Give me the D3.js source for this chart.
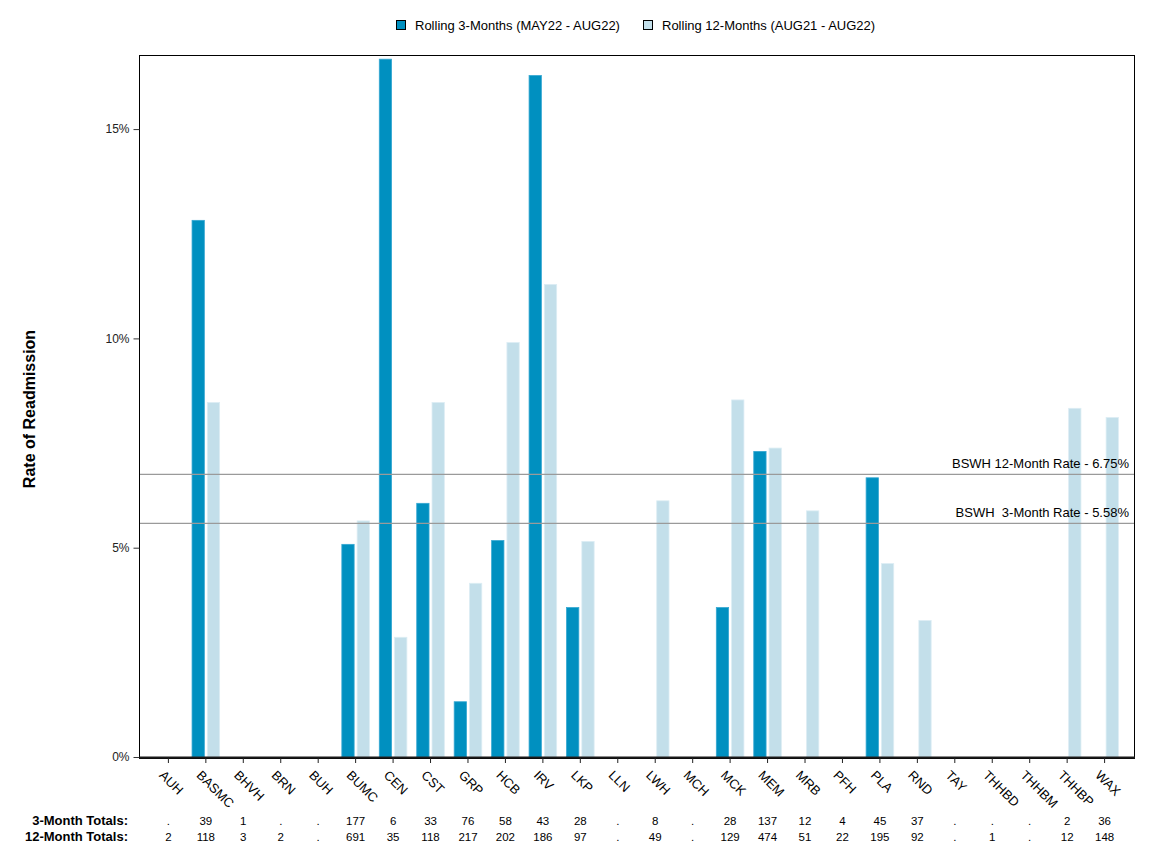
<!DOCTYPE html>
<html>
<head>
<meta charset="utf-8">
<script src="https://cdn.jsdelivr.net/npm/d3@7"></script>
<style>
  html, body { margin: 0; padding: 0; background: #fff; }
  svg { display: block; }
  text { font-family: "Liberation Sans", Arial, sans-serif; }
</style>
</head>
<body>
<svg id="chart" width="1152" height="864"></svg>
<script>
// ---- Data ----
const categories = ["AUH","BASMC","BHVH","BRN","BUH","BUMC","CEN","CST","GRP","HCB","IRV","LKP","LLN","LWH","MCH","MCK","MEM","MRB","PFH","PLA","RND","TAY","THHBD","THHBM","THHBP","WAX"];
// Rolling 3-month readmission rate (%), null = no data
const rate3Month = [null,12.82,0,null,null,5.08,16.67,6.06,1.32,5.17,16.28,3.57,null,0,null,3.57,7.30,0,0,6.67,0,null,null,null,0,0];
// Rolling 12-month readmission rate (%)
const rate12Month = [0,8.47,0,0,null,5.64,2.86,8.47,4.15,9.90,11.29,5.15,null,6.12,null,8.53,7.38,5.88,0,4.62,3.26,null,0,null,8.33,8.11];
const totals3Month = [".","39","1",".",".","177","6","33","76","58","43","28",".","8",".","28","137","12","4","45","37",".",".",".","2","36"];
const totals12Month = ["2","118","3","2",".","691","35","118","217","202","186","97",".","49",".","129","474","51","22","195","92",".","1",".","12","148"];
const seriesNames = ["Rolling 3-Months (MAY22 - AUG22)", "Rolling 12-Months (AUG21 - AUG22)"];
const yTicks = [0, 5, 10, 15];
const refLines = [
  {label: "BSWH 12-Month Rate - 6.75%", value: 6.75},
  {label: "BSWH  3-Month Rate - 5.58%", value: 5.58}
];
const tableRows = ["3-Month Totals:", "12-Month Totals:"];

// ---- Layout ----
const colors = ["#0090C0", "#C3DFEA"];
const strokes = ["#35A7D2", "#DCEDF4"];
const plot = {left: 139, right: 1134, top: 55, bottom: 757};

const svg = d3.select("#chart");

const x = d3.scaleBand().domain(categories).range([plot.left, plot.right])
  .paddingInner(0).paddingOuter(0.285);
const y = d3.scaleLinear().domain([0, 16.77]).range([plot.bottom, plot.top]);

// frame
svg.append("rect")
  .attr("x", plot.left + 0.5).attr("y", plot.top + 0.5)
  .attr("width", plot.right - plot.left).attr("height", plot.bottom - plot.top + 1)
  .attr("fill", "none").attr("stroke", "#000").attr("stroke-width", 1);

// y axis
const yAxis = d3.axisLeft(y).tickValues(yTicks).tickFormat(d => d + "%").tickSize(6).tickPadding(4);
const gy = svg.append("g").attr("transform", `translate(${plot.left + 0.5},0)`).call(yAxis);
gy.select(".domain").remove();
gy.selectAll(".tick line").attr("stroke", "#333");
gy.selectAll(".tick text").attr("font-family", "DejaVu Sans, sans-serif").attr("font-size", 12).attr("fill", "#222");

// y title
svg.append("text")
  .attr("transform", `translate(35,${(plot.top + plot.bottom) / 2 + 3}) rotate(-90)`)
  .attr("text-anchor", "middle")
  .attr("font-size", 16).attr("font-weight", "bold").attr("fill", "#000")
  .text("Rate of Readmission");

// bars
const barW = 12.3;
const series = [rate3Month, rate12Month];
series.forEach((vals, si) => {
  const data = categories.map((c, i) => ({c, v: vals[i]})).filter(d => d.v !== null);
  svg.append("g").selectAll("rect").data(data).join("rect")
    .attr("x", d => {
      const cx = x(d.c) + x.bandwidth() / 2;
      return si === 0 ? cx - 1.5 - barW : cx + 1.5;
    })
    .attr("y", d => y(d.v))
    .attr("width", barW)
    .attr("height", d => y(0) - y(d.v))
    .attr("fill", colors[si])
    .attr("stroke", d => d.v === 0 ? "#1a2a33" : strokes[si])
    .attr("stroke-width", d => d.v === 0 ? 1.2 : 0.8);
});

// reference lines
refLines.forEach(r => {
  svg.append("line")
    .attr("x1", plot.left + 1).attr("x2", plot.right)
    .attr("y1", y(r.value)).attr("y2", y(r.value))
    .attr("stroke", "#9a9a9a").attr("stroke-width", 1.2);
  svg.append("text")
    .attr("x", plot.right - 5).attr("y", y(r.value) - 6)
    .attr("text-anchor", "end").attr("font-size", 13).attr("fill", "#000")
    .style("white-space", "pre")
    .attr("xml:space", "preserve")
    .text(r.label);
});

// x baseline
svg.append("line")
  .attr("x1", plot.left).attr("x2", plot.right + 1)
  .attr("y1", plot.bottom + 0.5).attr("y2", plot.bottom + 0.5)
  .attr("stroke", "#1a1a1a").attr("stroke-width", 2);

// x axis ticks & labels
const xAxis = d3.axisBottom(x).tickSize(5).tickFormat("");
const gx = svg.append("g").attr("transform", `translate(0,${plot.bottom + 1})`).call(xAxis);
gx.select(".domain").remove();
gx.selectAll(".tick line").attr("stroke", "#222");

svg.append("g").selectAll("text").data(categories).join("text")
  .attr("transform", d => `translate(${x(d) + x.bandwidth() / 2 - 10},${plot.bottom + 19}) rotate(45)`)
  .attr("text-anchor", "start")
  .attr("font-size", 13).attr("fill", "#000")
  .text(d => d);

// totals table
const rowsY = [825, 841];
[totals3Month, totals12Month].forEach((row, ri) => {
  svg.append("text")
    .attr("x", 128).attr("y", rowsY[ri])
    .attr("text-anchor", "end").attr("font-size", 13).attr("font-weight", "bold")
    .text(tableRows[ri]);
  svg.append("g").selectAll("text").data(categories).join("text")
    .attr("x", d => x(d) + x.bandwidth() / 2)
    .attr("y", rowsY[ri])
    .attr("text-anchor", "middle").attr("font-size", 11.5)
    .text((d, i) => row[i]);
});

// legend
const legendItems = [{x: 396, name: seriesNames[0]}, {x: 643, name: seriesNames[1]}];
legendItems.forEach((it, i) => {
  svg.append("rect").attr("x", it.x + 0.5).attr("y", 20.5).attr("width", 9).attr("height", 9)
    .attr("fill", colors[i]).attr("stroke", "#000").attr("stroke-width", 1);
  svg.append("text").attr("x", it.x + 19).attr("y", 30)
    .attr("font-size", 13).attr("fill", "#000").text(it.name);
});
</script>
</body>
</html>
